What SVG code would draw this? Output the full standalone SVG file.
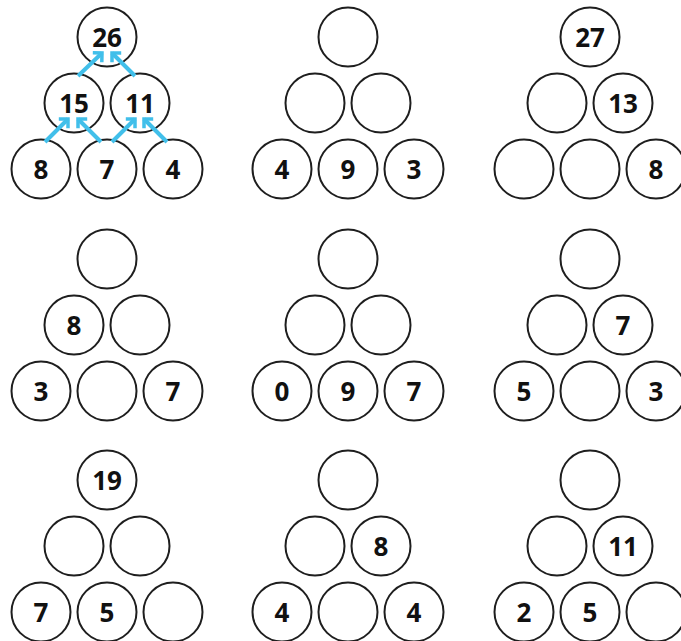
<svg xmlns="http://www.w3.org/2000/svg" width="681" height="641" viewBox="0 0 681 641">
<defs>
<style>
circle{fill:#fff;stroke:#1e1e1e;stroke-width:2}
text{font-family:"Open Sans","Liberation Sans",sans-serif;font-weight:700;font-size:26px;fill:#111;text-anchor:middle}
.arr{stroke:#41bfea;stroke-width:4;fill:none;marker-end:url(#ah)}
</style>
<marker id="ah" markerUnits="userSpaceOnUse" viewBox="0 0 16 18" markerWidth="16" markerHeight="18" refX="12" refY="9" orient="auto">
<path d="M5.5,2.5 L12,9 L5.5,15.5" fill="none" stroke="#41bfea" stroke-width="3.5" stroke-linejoin="miter"/>
</marker>
</defs>
<rect width="681" height="641" fill="#fff"/>

<g id="p1">
<g id="p1-t"><circle cx="107" cy="37" r="29.5"/><text x="107" y="46.5">26</text></g>
<g id="p1-ml"><circle cx="74" cy="103" r="29.5"/><text x="74" y="112.5">15</text></g>
<g id="p1-mr"><circle cx="140" cy="103" r="29.5"/><text x="140" y="112.5">11</text></g>
<g id="p1-bl"><circle cx="41" cy="169" r="29.5"/><text x="41" y="178.5">8</text></g>
<g id="p1-bm"><circle cx="107" cy="169" r="29.5"/><text x="107" y="178.5">7</text></g>
<g id="p1-br"><circle cx="173" cy="169" r="29.5"/><text x="173" y="178.5">4</text></g>
</g>

<g id="p2">
<g id="p2-t"><circle cx="348" cy="37" r="29.5"/></g>
<g id="p2-ml"><circle cx="315" cy="103" r="29.5"/></g>
<g id="p2-mr"><circle cx="381" cy="103" r="29.5"/></g>
<g id="p2-bl"><circle cx="282" cy="169" r="29.5"/><text x="282" y="178.5">4</text></g>
<g id="p2-bm"><circle cx="348" cy="169" r="29.5"/><text x="348" y="178.5">9</text></g>
<g id="p2-br"><circle cx="414" cy="169" r="29.5"/><text x="414" y="178.5">3</text></g>
</g>

<g id="p3">
<g id="p3-t"><circle cx="590" cy="37" r="29.5"/><text x="590" y="46.5">27</text></g>
<g id="p3-ml"><circle cx="557" cy="103" r="29.5"/></g>
<g id="p3-mr"><circle cx="623" cy="103" r="29.5"/><text x="623" y="112.5">13</text></g>
<g id="p3-bl"><circle cx="524" cy="169" r="29.5"/></g>
<g id="p3-bm"><circle cx="590" cy="169" r="29.5"/></g>
<g id="p3-br"><circle cx="656" cy="169" r="29.5"/><text x="656" y="178.5">8</text></g>
</g>

<g id="p4">
<g id="p4-t"><circle cx="107" cy="259" r="29.5"/></g>
<g id="p4-ml"><circle cx="74" cy="325" r="29.5"/><text x="74" y="334.5">8</text></g>
<g id="p4-mr"><circle cx="140" cy="325" r="29.5"/></g>
<g id="p4-bl"><circle cx="41" cy="391" r="29.5"/><text x="41" y="400.5">3</text></g>
<g id="p4-bm"><circle cx="107" cy="391" r="29.5"/></g>
<g id="p4-br"><circle cx="173" cy="391" r="29.5"/><text x="173" y="400.5">7</text></g>
</g>

<g id="p5">
<g id="p5-t"><circle cx="348" cy="259" r="29.5"/></g>
<g id="p5-ml"><circle cx="315" cy="325" r="29.5"/></g>
<g id="p5-mr"><circle cx="381" cy="325" r="29.5"/></g>
<g id="p5-bl"><circle cx="282" cy="391" r="29.5"/><text x="282" y="400.5">0</text></g>
<g id="p5-bm"><circle cx="348" cy="391" r="29.5"/><text x="348" y="400.5">9</text></g>
<g id="p5-br"><circle cx="414" cy="391" r="29.5"/><text x="414" y="400.5">7</text></g>
</g>

<g id="p6">
<g id="p6-t"><circle cx="590" cy="259" r="29.5"/></g>
<g id="p6-ml"><circle cx="557" cy="325" r="29.5"/></g>
<g id="p6-mr"><circle cx="623" cy="325" r="29.5"/><text x="623" y="334.5">7</text></g>
<g id="p6-bl"><circle cx="524" cy="391" r="29.5"/><text x="524" y="400.5">5</text></g>
<g id="p6-bm"><circle cx="590" cy="391" r="29.5"/></g>
<g id="p6-br"><circle cx="656" cy="391" r="29.5"/><text x="656" y="400.5">3</text></g>
</g>

<g id="p7">
<g id="p7-t"><circle cx="107" cy="480" r="29.5"/><text x="107" y="489.5">19</text></g>
<g id="p7-ml"><circle cx="74" cy="546" r="29.5"/></g>
<g id="p7-mr"><circle cx="140" cy="546" r="29.5"/></g>
<g id="p7-bl"><circle cx="41" cy="612" r="29.5"/><text x="41" y="621.5">7</text></g>
<g id="p7-bm"><circle cx="107" cy="612" r="29.5"/><text x="107" y="621.5">5</text></g>
<g id="p7-br"><circle cx="173" cy="612" r="29.5"/></g>
</g>

<g id="p8">
<g id="p8-t"><circle cx="348" cy="480" r="29.5"/></g>
<g id="p8-ml"><circle cx="315" cy="546" r="29.5"/></g>
<g id="p8-mr"><circle cx="381" cy="546" r="29.5"/><text x="381" y="555.5">8</text></g>
<g id="p8-bl"><circle cx="282" cy="612" r="29.5"/><text x="282" y="621.5">4</text></g>
<g id="p8-bm"><circle cx="348" cy="612" r="29.5"/></g>
<g id="p8-br"><circle cx="414" cy="612" r="29.5"/><text x="414" y="621.5">4</text></g>
</g>

<g id="p9">
<g id="p9-t"><circle cx="590" cy="480" r="29.5"/></g>
<g id="p9-ml"><circle cx="557" cy="546" r="29.5"/></g>
<g id="p9-mr"><circle cx="623" cy="546" r="29.5"/><text x="623" y="555.5">11</text></g>
<g id="p9-bl"><circle cx="524" cy="612" r="29.5"/><text x="524" y="621.5">2</text></g>
<g id="p9-bm"><circle cx="590" cy="612" r="29.5"/><text x="590" y="621.5">5</text></g>
<g id="p9-br"><circle cx="656" cy="612" r="29.5"/></g>
</g>

<g id="connectors">
<line class="arr" x1="78" y1="76" x2="102" y2="53"/>
<line class="arr" x1="135" y1="76" x2="112" y2="53"/>
<line class="arr" x1="45" y1="142" x2="68" y2="119"/>
<line class="arr" x1="101" y1="142" x2="78" y2="119"/>
<line class="arr" x1="112" y1="142" x2="135" y2="119"/>
<line class="arr" x1="167" y1="142" x2="144" y2="119"/>
</g>
</svg>
